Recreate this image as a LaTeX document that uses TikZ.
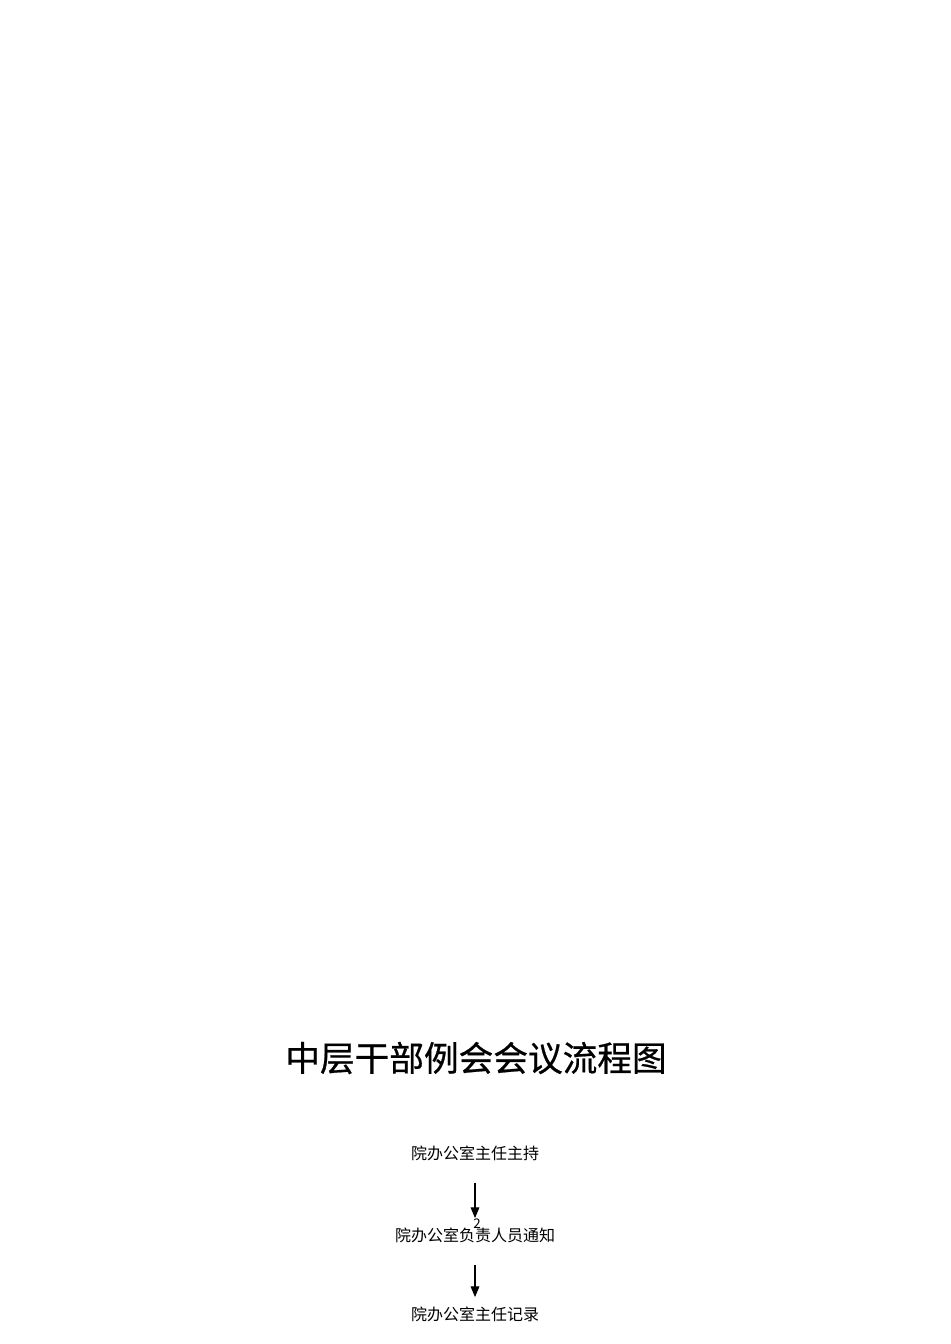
\documentclass[tikz,border=0pt]{standalone}
\usepackage{fontspec}
\newfontfamily\cjk{Noto Sans CJK SC}
\newfontfamily\cjktitle[FakeBold=0.6]{Noto Sans CJK SC}
\usetikzlibrary{arrows.meta}
\tikzset{
  stepnode/.style={font=\cjk\fontsize{12pt}{14pt}\selectfont, inner sep=0pt, minimum height=16pt},
  flowarrow/.style={-{Triangle[length=8pt,width=6.5pt]}, line width=0.8pt, black, shorten <=14pt, shorten >=4.5pt},
}
\begin{document}
\begin{tikzpicture}[x=0.75pt,y=-0.75pt]
\useasboundingbox (0,0) rectangle (950,1344);
\fill[white] (0,0) rectangle (950,1344);
\node[font=\cjktitle\fontsize{26pt}{30pt}\selectfont, inner sep=0pt] (title) at (476,1058) {中层干部例会会议流程图};
\node[stepnode] (s1) at (475,1153) {院办公室主任主持};
\node[stepnode] (s2) at (475,1235) {院办公室负责人员通知};
\node[stepnode] (s3) at (475,1314) {院办公室主任记录};
\node[font=\cjk\fontsize{10pt}{11pt}\selectfont, inner sep=0pt] (pg) at (477,1224) {2};
\draw[flowarrow] (s1.south) -- (s2.north);
\draw[flowarrow] (s2.south) -- (s3.north);
\end{tikzpicture}
\end{document}
